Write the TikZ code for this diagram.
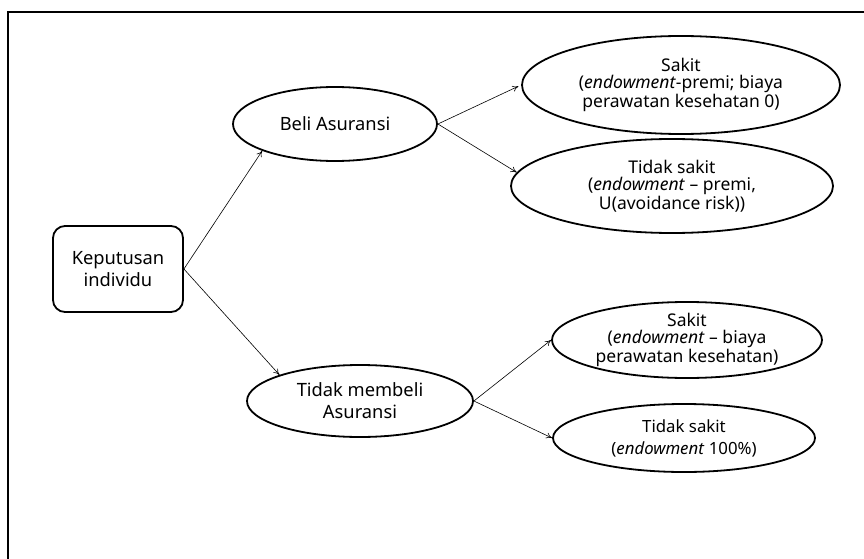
\documentclass[tikz,border=0pt]{standalone}
\usepackage{fontspec}
\setmainfont{Noto Sans}
\usetikzlibrary{shapes.geometric,arrows.meta}
\begin{document}
\begin{tikzpicture}[x=1pt,y=-1pt,
  oval/.style={draw,ellipse,line width=1.8pt,inner sep=0pt,align=center},
  bigtxt/.style={font=\fontsize{18.3}{22}\selectfont},
  smalltxt/.style={font=\fontsize{17.5}{17}\selectfont},
  conn/.style={-{To[length=6pt,width=6pt]},line width=0.6pt}]
\useasboundingbox (0,0) rectangle (864,559);
\draw[line width=2.2pt] (8,559) coordinate (fl) -- (8,12) coordinate (fc) -- (864,12) coordinate (fr);
\node[draw,rounded corners=12pt,line width=1.8pt,minimum width=130pt,minimum height=86pt,align=center,bigtxt] (k) at (118,269) {Keputusan\\individu};
\node[oval,minimum width=204pt,minimum height=74pt,bigtxt] (beli) at (335,124) {Beli Asuransi};
\node[oval,minimum width=226pt,minimum height=72pt,bigtxt] (tm) at (360,401) {Tidak membeli\\Asuransi};
\node[oval,minimum width=318pt,minimum height=98pt,smalltxt] (s1) at (681,85) {Sakit\\(\textit{endowment}-premi; biaya\\perawatan kesehatan 0)};
\node[oval,minimum width=322pt,minimum height=94pt,smalltxt] (t1) at (672,186) {Tidak sakit\\(\textit{endowment} – premi,\\U(avoidance risk))};
\node[oval,minimum width=270pt,minimum height=76pt,smalltxt] (s2) at (687,340) {Sakit\\(\textit{endowment} – biaya\\perawatan kesehatan)};
\node[oval,minimum width=262pt,minimum height=68pt,font=\fontsize{16.8}{22}\selectfont] (t2) at (684,438) {Tidak sakit\\(\textit{endowment} 100\%)};
\draw[conn] (k.east) -- (beli.south west);
\draw[conn] (k.east) -- (tm.north west);
\draw[conn,shorten >=3pt] (beli.east) -- (s1.west);
\draw[conn] (beli.east) -- (t1.175);
\draw[conn] (tm.east) -- (s2.west);
\draw[conn] (tm.east) -- (t2.west);
\end{tikzpicture}
\end{document}
